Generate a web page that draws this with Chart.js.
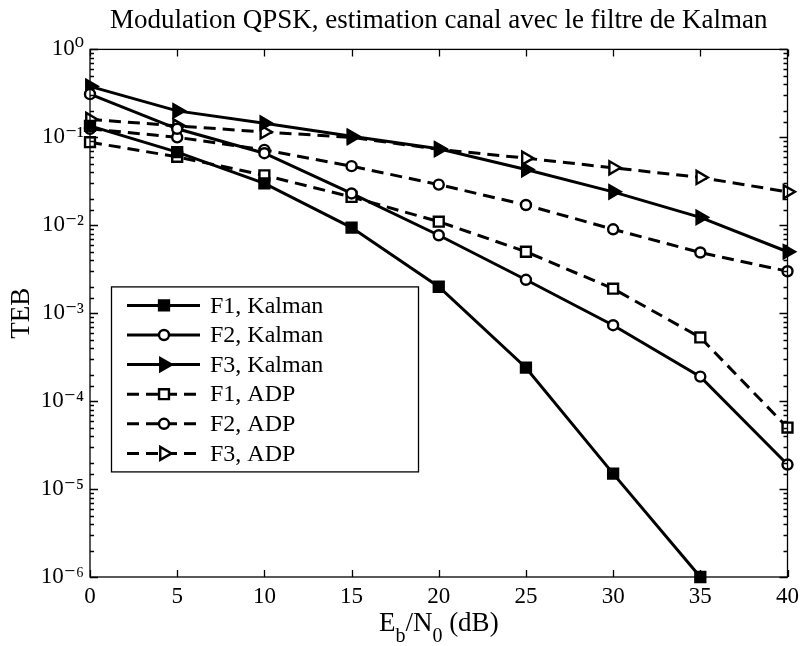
<!DOCTYPE html>
<html><head><meta charset="utf-8">
<script src="https://cdn.jsdelivr.net/npm/chart.js@4/dist/chart.umd.min.js"></script>
<style>html,body{margin:0;padding:0;background:#fff}#wrap{width:805px;height:646px}</style>
</head><body><div id="wrap"><canvas id="c" width="805" height="646"></canvas></div>
<script>
const snrDb = [0, 5, 10, 15, 20, 25, 30, 35, 40];
const f1Kalman = [0.135, 0.068, 0.030, 0.0094, 0.0020, 2.4e-4, 1.5e-5, 1.0e-6, null];
const f2Kalman = [0.31, 0.125, 0.066, 0.023, 0.0077, 0.0024, 7.3e-4, 1.9e-4, 1.9e-5];
const f3Kalman = [0.38, 0.20, 0.145, 0.103, 0.074, 0.043, 0.024, 0.0123, 0.0050];
const f1Adp = [0.088, 0.060, 0.037, 0.021, 0.011, 0.0050, 0.0019, 5.3e-4, 5.0e-5];
const f2Adp = [0.125, 0.100, 0.072, 0.047, 0.029, 0.017, 0.0090, 0.0049, 0.0030];
const f3Adp = [0.16, 0.135, 0.115, 0.100, 0.073, 0.058, 0.045, 0.035, 0.024];
const seriesLabels = ['F1, Kalman', 'F2, Kalman', 'F3, Kalman', 'F1, ADP', 'F2, ADP', 'F3, ADP'];
const xTickLabels = ['0', '5', '10', '15', '20', '25', '30', '35', '40'];
const yTickLabels = ['10⁻⁶', '10⁻⁵', '10⁻⁴', '10⁻³', '10⁻²', '10⁻¹', '10⁰'];
const titleText = 'Modulation QPSK, estimation canal avec le filtre de Kalman';
const yTitleText = 'TEB';
const xTitleParts = [['E', 0], ['b', 1], ['/N', 0], ['0', 1], [' (dB)', 0]];

const SERIF = '"Liberation Serif", "Times New Roman", "DejaVu Serif", serif';

function pts(arr) { return snrDb.map((x, i) => ({ x: x, y: arr[i] })); }

const styles = [
  { pointStyle: 'rect', pointRadius: 7, pointBackgroundColor: '#000', borderDash: [] },
  { pointStyle: 'circle', pointRadius: 5, pointBackgroundColor: '#fff', borderDash: [] },
  { pointStyle: 'triangle', pointRadius: 7.5, pointRotation: 90, pointBackgroundColor: '#000', borderDash: [] },
  { pointStyle: 'rect', pointRadius: 7, pointBackgroundColor: '#fff', borderDash: [12, 7] },
  { pointStyle: 'circle', pointRadius: 5, pointBackgroundColor: '#fff', borderDash: [12, 7] },
  { pointStyle: 'triangle', pointRadius: 7.5, pointRotation: 90, pointBackgroundColor: '#fff', borderDash: [12, 7] }
];
const seriesData = [f1Kalman, f2Kalman, f3Kalman, f1Adp, f2Adp, f3Adp];

const datasets = seriesData.map((arr, i) => Object.assign({
  label: seriesLabels[i],
  data: pts(arr),
  borderColor: '#000',
  borderWidth: 3,
  pointBorderColor: '#000',
  pointBorderWidth: 2.4,
  pointHoverRadius: 7,
  tension: 0,
  clip: false,
  fill: false
}, styles[i]));

const framePlugin = {
  id: 'matlabFrame',
  afterDraw(chart) {
    const ctx = chart.ctx, a = chart.chartArea;
    const xs = chart.scales.x, ys = chart.scales.y;
    ctx.save();
    ctx.strokeStyle = '#000';
    ctx.lineWidth = 1.3;
    ctx.setLineDash([]);
    ctx.strokeRect(a.left, a.top, a.right - a.left, a.bottom - a.top);
    ctx.beginPath();
    xs.ticks.forEach(t => {
      const px = Math.round(xs.getPixelForValue(t.value)) + 0.5;
      ctx.moveTo(px, a.bottom); ctx.lineTo(px, a.bottom - 7);
      ctx.moveTo(px, a.top); ctx.lineTo(px, a.top + 7);
    });
    ys.ticks.forEach(t => {
      const lg = Math.log10(t.value);
      const major = Math.abs(lg - Math.round(lg)) < 1e-9;
      const len = major ? 8 : 4;
      const py = Math.round(ys.getPixelForValue(t.value)) + 0.5;
      ctx.moveTo(a.left, py); ctx.lineTo(a.left + len, py);
      ctx.moveTo(a.right, py); ctx.lineTo(a.right - len, py);
    });
    ctx.stroke();

    // x axis title with subscripts
    const mainSize = 27, subSize = 20;
    const cx = (a.left + a.right) / 2, baseY = 631;
    let total = 0;
    xTitleParts.forEach(p => {
      ctx.font = (p[1] ? subSize : mainSize) + 'px ' + SERIF;
      total += ctx.measureText(p[0]).width;
    });
    let x = cx - total / 2;
    ctx.fillStyle = '#000';
    ctx.textBaseline = 'alphabetic';
    ctx.textAlign = 'left';
    xTitleParts.forEach(p => {
      ctx.font = (p[1] ? subSize : mainSize) + 'px ' + SERIF;
      ctx.fillText(p[0], x, baseY + (p[1] ? 11 : 0));
      x += ctx.measureText(p[0]).width;
    });

    // legend
    const L = { x: a.left + 21, y: a.top + 237, w: 307, h: 185 };
    ctx.fillStyle = '#fff';
    ctx.fillRect(L.x, L.y, L.w, L.h);
    ctx.strokeStyle = '#000';
    ctx.lineWidth = 1.3;
    ctx.strokeRect(L.x + 0.5, L.y + 0.5, L.w, L.h);
    chart.data.datasets.forEach((ds, i) => {
      const cy = L.y + 19 + i * 29.6;
      ctx.save();
      ctx.strokeStyle = '#000';
      ctx.lineWidth = ds.borderWidth;
      ctx.setLineDash(ds.borderDash || []);
      ctx.beginPath();
      ctx.moveTo(L.x + 16, cy); ctx.lineTo(L.x + 89, cy);
      ctx.stroke();
      ctx.setLineDash([]);
      ctx.fillStyle = ds.pointBackgroundColor;
      ctx.strokeStyle = '#000';
      ctx.lineWidth = ds.pointBorderWidth;
      Chart.helpers.drawPoint(ctx, { pointStyle: ds.pointStyle, radius: ds.pointRadius, rotation: ds.pointRotation || 0, borderWidth: ds.pointBorderWidth }, L.x + 53, cy);
      ctx.restore();
      ctx.fillStyle = '#000';
      ctx.font = '24px ' + SERIF;
      ctx.textBaseline = 'middle';
      ctx.textAlign = 'left';
      ctx.fillText(ds.label, L.x + 99, cy + 1);
    });
    ctx.restore();
  }
};

new Chart(document.getElementById('c'), {
  type: 'line',
  data: { datasets: datasets },
  options: {
    responsive: false,
    devicePixelRatio: 1,
    animation: false,
    layout: { padding: { left: 0, right: 13, top: 0, bottom: 0 } },
    plugins: {
      legend: { display: false },
      tooltip: { enabled: false },
      title: {
        display: true,
        fullSize: false,
        text: titleText,
        color: '#000',
        font: { family: SERIF, size: 27, weight: 'normal' },
        padding: { top: 5, bottom: 12 }
      }
    },
    scales: {
      x: {
        type: 'linear',
        min: 0, max: 40,
        grid: { display: false, drawTicks: false },
        border: { display: false },
        ticks: {
          stepSize: 5,
          padding: 6,
          color: '#000',
          maxRotation: 0,
          font: { family: SERIF, size: 23 },
          callback: (v) => { const k = snrDb.indexOf(v); return k >= 0 ? xTickLabels[k] : ''; }
        },
        afterFit: (s) => { s.height = 69; }
      },
      y: {
        type: 'logarithmic',
        min: 1e-6, max: 1,
        grid: { display: false, drawTicks: false },
        border: { display: false },
        ticks: {
          autoSkip: false,
          padding: 6,
          color: '#000',
          font: { family: SERIF, size: 23 },
          callback: (v) => {
            const lg = Math.log10(v);
            const e = Math.round(lg);
            if (Math.abs(lg - e) < 1e-9) return yTickLabels[e + 6];
            return '';
          }
        },
        title: {
          display: true,
          text: yTitleText,
          color: '#000',
          font: { family: SERIF, size: 27, weight: 'normal' },
          padding: { top: 6, bottom: 0 }
        },
        afterFit: (s) => { s.width = 90; }
      }
    }
  },
  plugins: [framePlugin]
});
</script>
</body></html>
